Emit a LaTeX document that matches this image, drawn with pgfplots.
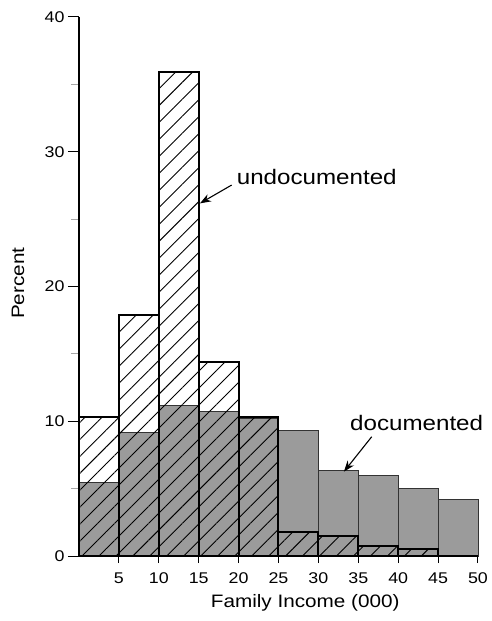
\documentclass[border=0pt]{standalone}
\usepackage{fontspec}
\setmainfont[FakeStretch=1.15]{Liberation Sans}
\usepackage{pgfplots}
\pgfplotsset{compat=1.18}
\usetikzlibrary{patterns.meta,arrows.meta}
\definecolor{docgray}{RGB}{155,155,155}
\begin{document}
\begin{tikzpicture}
\path[use as bounding box] (-79pt,-65pt) rectangle (412pt,556pt);
\begin{axis}[
  scale only axis, width=399pt, height=539pt,
  xmin=0, xmax=50, ymin=0, ymax=40,
  clip=false,
  axis x line=bottom, axis y line=left,
  axis line style={line width=1.6pt,-},
  xtick={5,10,...,50}, ytick={0,10,...,40}, minor ytick={5,15,25,35},
  tick align=outside,
  major tick length=11pt, minor tick length=8pt,
  tick style={black,line width=1pt},
  minor y tick style={gray!70},
  xtick style={/pgfplots/major tick length=7pt},
  ticklabel style={font=\fontsize{15.5}{18}\selectfont},
  xticklabel style={yshift=-2pt},
  /pgf/number format/assume math mode=true,
  xlabel={Family Income (000)}, ylabel={Percent},
  label style={font=\fontsize{18}{21}\selectfont},
  xlabel style={at={(axis description cs:0.567,-0.0872)},anchor=center},
  ylabel style={at={(axis description cs:-0.153,0.506)},anchor=center},
]
\addplot[ybar interval, fill=docgray, draw=black!80, line width=0.7pt]
  coordinates {(0,5.44) (5,9.2) (10,11.2) (15,10.7) (20,10.2) (25,9.35) (30,6.33) (35,6.0) (40,5.02) (45,4.2) (50,4.2)};
\addplot[ybar interval, pattern={Lines[angle=45,distance=12pt,line width=0.9pt]}, pattern color=black, draw=black, line width=2pt]
  coordinates {(0,10.3) (5,17.9) (10,35.9) (15,14.4) (20,10.3) (25,1.8) (30,1.5) (35,0.76) (40,0.52) (45,0) (50,0)};
\node[anchor=west, inner sep=0pt, font=\fontsize{21}{25}\selectfont] at (axis cs:19.76,28.1) {undocumented};
\draw[-{Stealth[length=11pt,width=8pt]}, line width=1.1pt] (axis cs:19.13,27.53) -- (axis cs:15.16,26.17);
\node[anchor=west, inner sep=0pt, font=\fontsize{21}{25}\selectfont] at (axis cs:33.96,9.9) {documented};
\draw[-{Stealth[length=11pt,width=8pt]}, line width=1.1pt] (axis cs:36.68,8.85) -- (axis cs:33.2,6.26);
\end{axis}
\end{tikzpicture}
\end{document}
